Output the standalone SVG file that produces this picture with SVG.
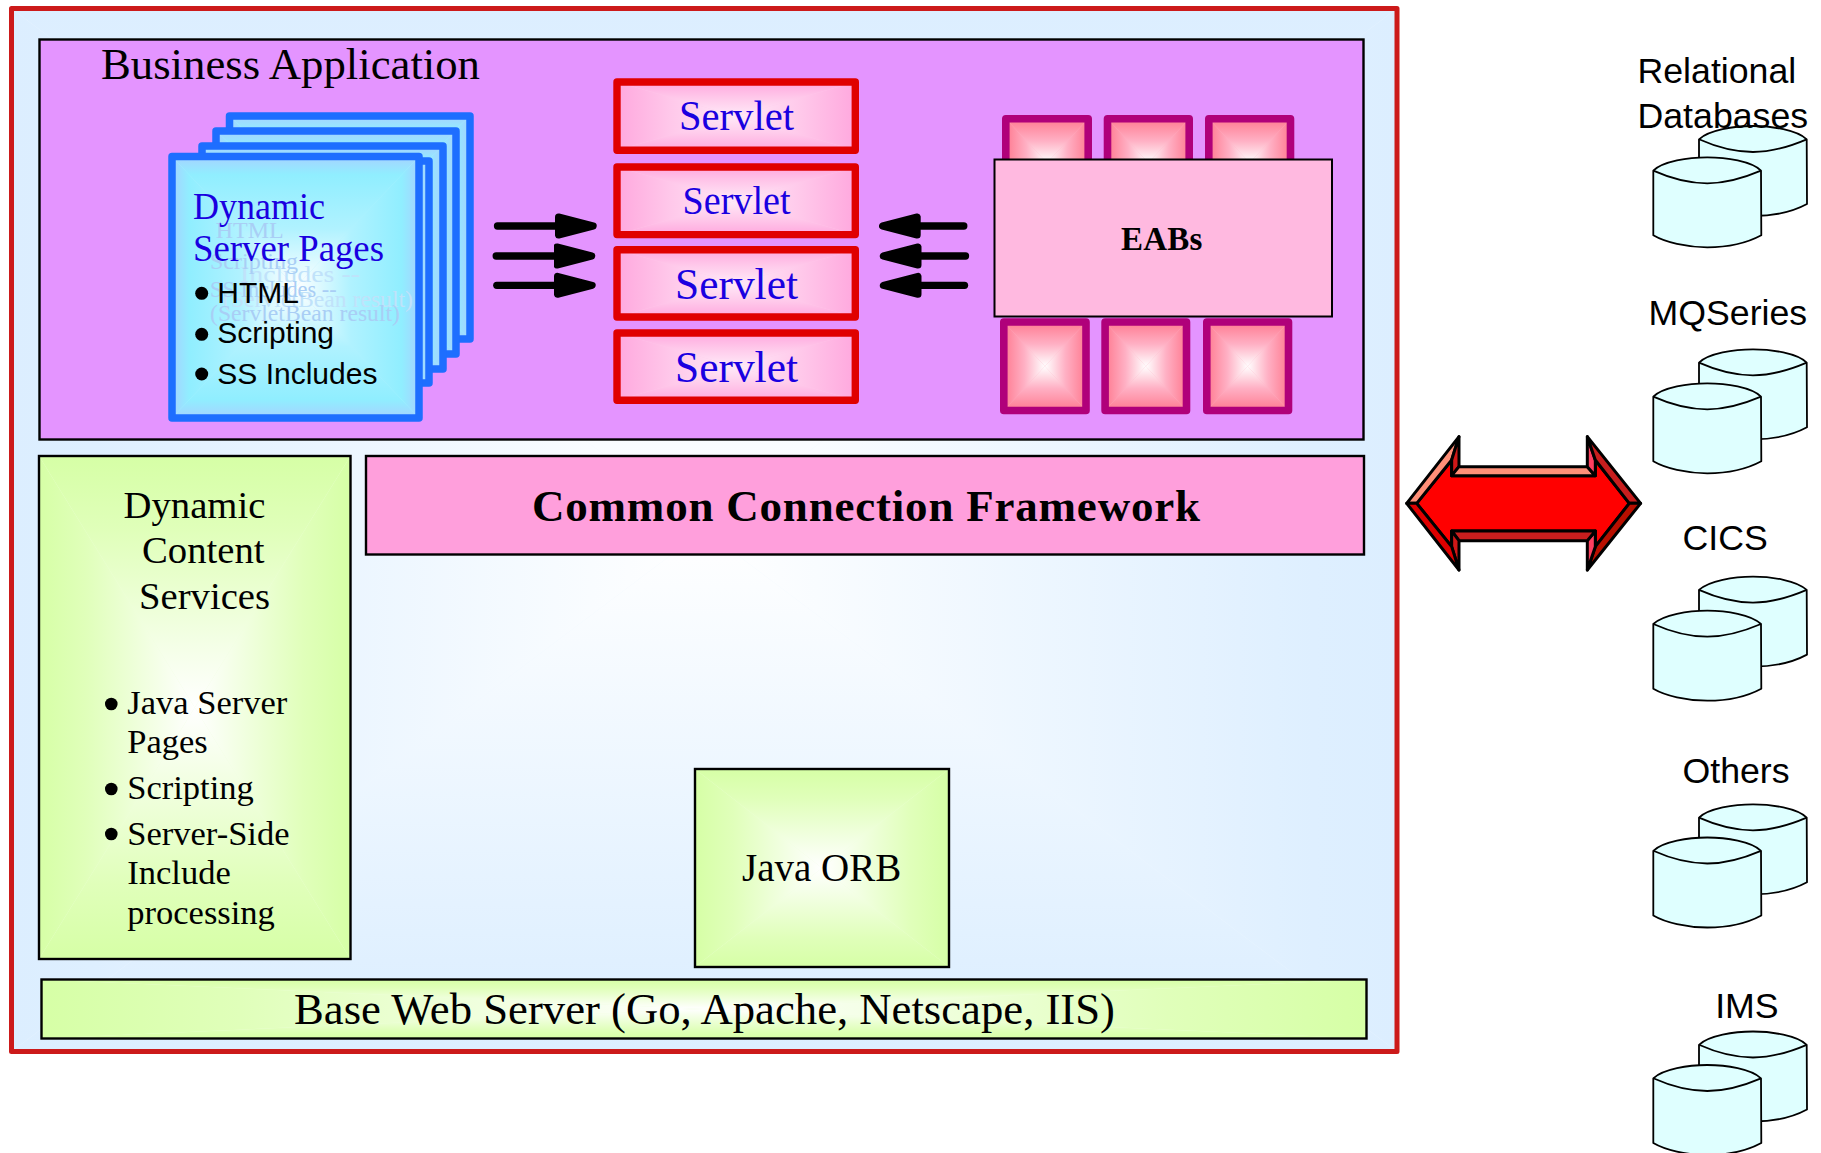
<svg xmlns="http://www.w3.org/2000/svg" width="1821" height="1153" viewBox="0 0 1821 1153">
<style>
text{font-family:"Liberation Serif","Times New Roman",serif;fill:#000}
.sans{font-family:"Liberation Sans",Arial,sans-serif;font-size:35.7px}
.box{fill:none;stroke:#000;stroke-width:2.4}
.sheet{fill:none;stroke:#1e6eff;stroke-width:7.5;stroke-linejoin:round}
.servlet{fill:none;stroke:#e00000;stroke-width:7.4;stroke-linejoin:round}
.eab{fill:none;stroke:#b0007a;stroke-width:7.6;stroke-linejoin:round}
.blue{fill:#1a00e0}
.ghost{fill:#a9cef5;font-size:24px}
.ghost2{fill:#c0e2fa;font-size:24px}
.arrow{stroke:#000;stroke-width:7.3;stroke-linecap:round;fill:none;marker-end:url(#head)}
.bevel polygon{stroke:#000;stroke-width:9;stroke-linejoin:round}
.cyl{fill:#dfffff;stroke:#000;stroke-width:1.8;stroke-linejoin:round}
.sans-b{font-family:"Liberation Sans",Arial,sans-serif;font-size:30px}
</style>
<defs>
<linearGradient id="gBg" gradientUnits="userSpaceOnUse" x1="0" y1="0" x2="50" y2="0"><stop offset="0" stop-color="#dceeff"/><stop offset="0.12" stop-color="#deefff"/><stop offset="1" stop-color="#ffffff"/></linearGradient>
<linearGradient id="gBlue" gradientUnits="userSpaceOnUse" x1="0" y1="0" x2="50" y2="0"><stop offset="0" stop-color="#a6d2ff"/><stop offset="0.14" stop-color="#90eeff"/><stop offset="0.55" stop-color="#b0f2ff"/><stop offset="1" stop-color="#ffffff"/></linearGradient>
<linearGradient id="gPink" gradientUnits="userSpaceOnUse" x1="0" y1="0" x2="50" y2="0"><stop offset="0" stop-color="#ff7a90"/><stop offset="0.5" stop-color="#ffb0c4"/><stop offset="1" stop-color="#ffffff"/></linearGradient>
<linearGradient id="gServ" gradientUnits="userSpaceOnUse" x1="0" y1="0" x2="50" y2="0"><stop offset="0" stop-color="#ffa8de"/><stop offset="0.45" stop-color="#ffc8ea"/><stop offset="1" stop-color="#ffeaf8"/></linearGradient>
<linearGradient id="gGreen" gradientUnits="userSpaceOnUse" x1="0" y1="0" x2="50" y2="0"><stop offset="0" stop-color="#d6ffa6"/><stop offset="0.3" stop-color="#e0ffba"/><stop offset="1" stop-color="#ffffff"/></linearGradient>
<symbol id="pBg" viewBox="0 0 100 100" preserveAspectRatio="none"><rect width="100" height="100" fill="#eef7ff"/><g fill="url(#gBg)"><polygon points="0,0 50,50 0,100"/><polygon points="0,0 50,50 0,100" transform="rotate(90 50 50)"/><polygon points="0,0 50,50 0,100" transform="rotate(180 50 50)"/><polygon points="0,0 50,50 0,100" transform="rotate(270 50 50)"/></g></symbol>
<symbol id="pBlue" viewBox="0 0 100 100" preserveAspectRatio="none"><rect width="100" height="100" fill="#b0f2ff"/><g fill="url(#gBlue)"><polygon points="0,0 50,50 0,100"/><polygon points="0,0 50,50 0,100" transform="rotate(90 50 50)"/><polygon points="0,0 50,50 0,100" transform="rotate(180 50 50)"/><polygon points="0,0 50,50 0,100" transform="rotate(270 50 50)"/></g></symbol>
<symbol id="pPink" viewBox="0 0 100 100" preserveAspectRatio="none"><rect width="100" height="100" fill="#ffb0c4"/><g fill="url(#gPink)"><polygon points="0,0 50,50 0,100"/><polygon points="0,0 50,50 0,100" transform="rotate(90 50 50)"/><polygon points="0,0 50,50 0,100" transform="rotate(180 50 50)"/><polygon points="0,0 50,50 0,100" transform="rotate(270 50 50)"/></g></symbol>
<symbol id="pServ" viewBox="0 0 100 100" preserveAspectRatio="none"><rect width="100" height="100" fill="#ffc8ea"/><g fill="url(#gServ)"><polygon points="0,0 50,50 0,100"/><polygon points="0,0 50,50 0,100" transform="rotate(90 50 50)"/><polygon points="0,0 50,50 0,100" transform="rotate(180 50 50)"/><polygon points="0,0 50,50 0,100" transform="rotate(270 50 50)"/></g></symbol>
<symbol id="pGreen" viewBox="0 0 100 100" preserveAspectRatio="none"><rect width="100" height="100" fill="#eeffdc"/><g fill="url(#gGreen)"><polygon points="0,0 50,50 0,100"/><polygon points="0,0 50,50 0,100" transform="rotate(90 50 50)"/><polygon points="0,0 50,50 0,100" transform="rotate(180 50 50)"/><polygon points="0,0 50,50 0,100" transform="rotate(270 50 50)"/></g></symbol>
<marker id="head" markerUnits="userSpaceOnUse" markerWidth="44" markerHeight="28" viewBox="0 0 44 28" refX="0" refY="14" orient="auto"><path d="M3.5 5 L38.2 14 L3.5 23Z" fill="#000" stroke="#000" stroke-width="7" stroke-linejoin="round"/></marker>
<g id="cylinder"><path class="cyl" d="M0 13.3C10 4 35 0 54 0S98 4 107.7 13.3L108 78C95 85 75 90 54 90S12 85 0 78Z"/><path class="cyl" style="fill:none" d="M0 13.3C15 20 35 26 54 26S92 20 107.7 13.3"/></g>
</defs>

<g id="web-server-frame">
<use href="#pBg" x="11.5" y="8.5" width="1385.5" height="1043"/>
<rect x="11.5" y="8.5" width="1385.5" height="1043" fill="none" stroke="#cc1a1a" stroke-width="5" stroke-linejoin="round"/>
</g>

<g id="business-application">
<rect x="39.5" y="39.5" width="1324" height="400" fill="#e494ff" stroke="#000" stroke-width="2.4"/>
<text x="101" y="78.500" font-size="44.4" textLength="379" lengthAdjust="spacingAndGlyphs">Business Application</text>
</g>

<g id="dynamic-server-pages">
<use href="#pBlue" x="229.5" y="116" width="240.500" height="223"/><rect class="sheet" x="229.500" y="116" width="240.500" height="223"/>
<use href="#pBlue" x="216" y="131" width="240" height="223"/><rect class="sheet" x="216" y="131" width="240" height="223"/>
<use href="#pBlue" x="202" y="146" width="241" height="223"/><rect class="sheet" x="202" y="146" width="241" height="223"/>
<use href="#pBlue" x="189" y="161" width="240" height="222"/><rect class="sheet" x="189" y="161" width="240" height="222"/>
<use href="#pBlue" x="172" y="156.500" width="247" height="261.500"/><rect class="sheet" x="172" y="156.500" width="247" height="261.500"/>
<text class="ghost2" x="240" y="281.700" textLength="120" lengthAdjust="spacingAndGlyphs">Includes --</text>
<text class="ghost2" x="223" y="306.700" textLength="190" lengthAdjust="spacingAndGlyphs">(ServletBean result)</text>
<text class="ghost" x="215.700" y="238">HTML</text>
<text class="ghost" x="210" y="269">Scripting</text>
<text class="ghost" x="210" y="296.700" textLength="126.700" lengthAdjust="spacingAndGlyphs">SS Includes --</text>
<text class="ghost" x="210" y="321" textLength="190" lengthAdjust="spacingAndGlyphs">(ServletBean result)</text>
<text class="blue" x="193" y="218.800" font-size="37" textLength="132" lengthAdjust="spacingAndGlyphs">Dynamic</text>
<text class="blue" x="193" y="261" font-size="37" textLength="191" lengthAdjust="spacingAndGlyphs">Server Pages</text>
<circle cx="201.700" cy="293.300" r="6.500"/><text class="sans-b" x="217.300" y="302.700">HTML</text>
<circle cx="201.700" cy="334.300" r="6.500"/><text class="sans-b" x="217.300" y="343.300">Scripting</text>
<circle cx="201.700" cy="374" r="6.500"/><text class="sans-b" x="217.300" y="384.300">SS Includes</text>
</g>

<g id="servlet-1"><use href="#pServ" x="617" y="82" width="238.300" height="68.300"/><rect class="servlet" x="617" y="82" width="238.300" height="68.300"/><text class="blue" x="679" y="130" font-size="42" textLength="115" lengthAdjust="spacingAndGlyphs">Servlet</text></g>
<g id="servlet-2"><use href="#pServ" x="617" y="167" width="238.300" height="67.600"/><rect class="servlet" x="617" y="167" width="238.300" height="67.600"/><text class="blue" x="682.500" y="213.600" font-size="39" textLength="108" lengthAdjust="spacingAndGlyphs">Servlet</text></g>
<g id="servlet-3"><use href="#pServ" x="617" y="249.700" width="238.300" height="67.300"/><rect class="servlet" x="617" y="249.700" width="238.300" height="67.300"/><text class="blue" x="675" y="298.700" font-size="44.500" textLength="123" lengthAdjust="spacingAndGlyphs">Servlet</text></g>
<g id="servlet-4"><use href="#pServ" x="617" y="333" width="238.300" height="67.300"/><rect class="servlet" x="617" y="333" width="238.300" height="67.300"/><text class="blue" x="675" y="382" font-size="44.500" textLength="123" lengthAdjust="spacingAndGlyphs">Servlet</text></g>

<g id="eab-components">
<use href="#pPink" x="1005.800" y="118.800" width="82.400" height="88"/><rect class="eab" x="1005.800" y="118.800" width="82.400" height="88"/>
<use href="#pPink" x="1107.500" y="118.800" width="81.700" height="88"/><rect class="eab" x="1107.500" y="118.800" width="81.700" height="88"/>
<use href="#pPink" x="1208.800" y="118.800" width="81.700" height="88"/><rect class="eab" x="1208.800" y="118.800" width="81.700" height="88"/>
<use href="#pPink" x="1003.800" y="322" width="82.200" height="88.500"/><rect class="eab" x="1003.800" y="322" width="82.200" height="88.500"/>
<use href="#pPink" x="1105.100" y="322" width="81.400" height="88.500"/><rect class="eab" x="1105.100" y="322" width="81.400" height="88.500"/>
<use href="#pPink" x="1206.800" y="322" width="81.700" height="88.500"/><rect class="eab" x="1206.800" y="322" width="81.700" height="88.500"/>
</g>
<g id="eabs">
<rect x="994.500" y="159.500" width="337.500" height="157" fill="#ffb9e0" stroke="#000" stroke-width="2"/>
<text x="1121" y="250" font-size="33" font-weight="bold" textLength="81.300" lengthAdjust="spacing">EABs</text>
</g>

<g id="connectors">
<path class="arrow" d="M497.500 226H555"/>
<path class="arrow" d="M496.200 256H553.500"/>
<path class="arrow" d="M496.800 285.300H554"/>
<path class="arrow" d="M963.800 226H920.700"/>
<path class="arrow" d="M965.500 256H921.500"/>
<path class="arrow" d="M964.500 285.300H921.500"/>
<g class="bevel" transform="translate(1390 420) scale(0.3333)">
<polygon points="80,250 185,120 185,167 616,167 616,120 718,250 616,380 616,333 185,333 185,380" fill="#ff0000"/>
<polygon points="50,250 207,50 185,120 80,250" fill="#ff8f78"/>
<polygon points="207,50 207,140 185,167 185,120" fill="#d01818"/>
<polygon points="207,140 592,140 616,167 185,167" fill="#ff8f78"/>
<polygon points="592,50 592,140 616,167 616,120" fill="#ff4060"/>
<polygon points="592,50 752,250 718,250 616,120" fill="#c81e1e"/>
<polygon points="752,250 592,450 616,380 718,250" fill="#b80f00"/>
<polygon points="592,450 592,362 616,333 616,380" fill="#ff4060"/>
<polygon points="207,362 592,362 616,333 185,333" fill="#c81e1e"/>
<polygon points="207,450 207,362 185,333 185,380" fill="#d01818"/>
<polygon points="50,250 207,450 185,380 80,250" fill="#e00000"/>
</g>
</g>

<g id="dynamic-content-services">
<use href="#pGreen" x="39" y="456" width="311.500" height="503"/><rect class="box" x="39" y="456" width="311.500" height="503"/>
<text x="123.500" y="517.500" font-size="38.700">Dynamic</text>
<text x="142" y="563" font-size="38.700">Content</text>
<text x="139" y="608.500" font-size="38.700">Services</text>
<g font-size="34.500">
<circle cx="111.300" cy="704" r="6.300"/><text x="127.300" y="714">Java Server</text>
<text x="127.300" y="753">Pages</text>
<circle cx="111.300" cy="789" r="6.300"/><text x="127.300" y="799">Scripting</text>
<circle cx="111.300" cy="834" r="6.300"/><text x="127.300" y="844.500">Server-Side</text>
<text x="127.300" y="884">Include</text>
<text x="127.300" y="924">processing</text>
</g>
</g>

<g id="common-connection-framework">
<rect x="366" y="456" width="998" height="98.500" fill="#ff9fdc" stroke="#000" stroke-width="2.400"/>
<text x="532" y="521" font-size="45" font-weight="bold" textLength="668" lengthAdjust="spacing">Common Connection Framework</text>
</g>

<g id="java-orb">
<use href="#pGreen" x="695" y="769" width="254" height="198"/><rect class="box" x="695" y="769" width="254" height="198"/>
<text x="742" y="881" font-size="39">Java ORB</text>
</g>

<g id="base-web-server">
<use href="#pGreen" x="41.500" y="979.500" width="1325" height="59"/><rect x="41.500" y="979.500" width="1325" height="59" fill="none" stroke="#000" stroke-width="2.400"/>
<text x="294" y="1024" font-size="44.300" textLength="821" lengthAdjust="spacingAndGlyphs">Base Web Server (Go, Apache, Netscape, IIS)</text>
</g>

<g id="relational-databases">
<use href="#cylinder" x="1699" y="126"/><use href="#cylinder" x="1653.300" y="157.300"/>
<text class="sans" x="1637.500" y="82.700">Relational</text><text class="sans" x="1637.500" y="127.700">Databases</text>
</g>
<g id="mqseries">
<use href="#cylinder" x="1699" y="349.300"/><use href="#cylinder" x="1653.300" y="383.300"/>
<text class="sans" x="1648.500" y="325">MQSeries</text>
</g>
<g id="cics">
<use href="#cylinder" x="1699" y="576.600"/><use href="#cylinder" x="1653.300" y="610.700"/>
<text class="sans" x="1682.500" y="550">CICS</text>
</g>
<g id="others">
<use href="#cylinder" x="1699" y="804.300"/><use href="#cylinder" x="1653.300" y="837.500"/>
<text class="sans" x="1682.500" y="783.200">Others</text>
</g>
<g id="ims">
<use href="#cylinder" x="1699" y="1031.500"/><use href="#cylinder" x="1653.300" y="1065"/>
<text class="sans" x="1715.200" y="1018.400">IMS</text>
</g>
</svg>
